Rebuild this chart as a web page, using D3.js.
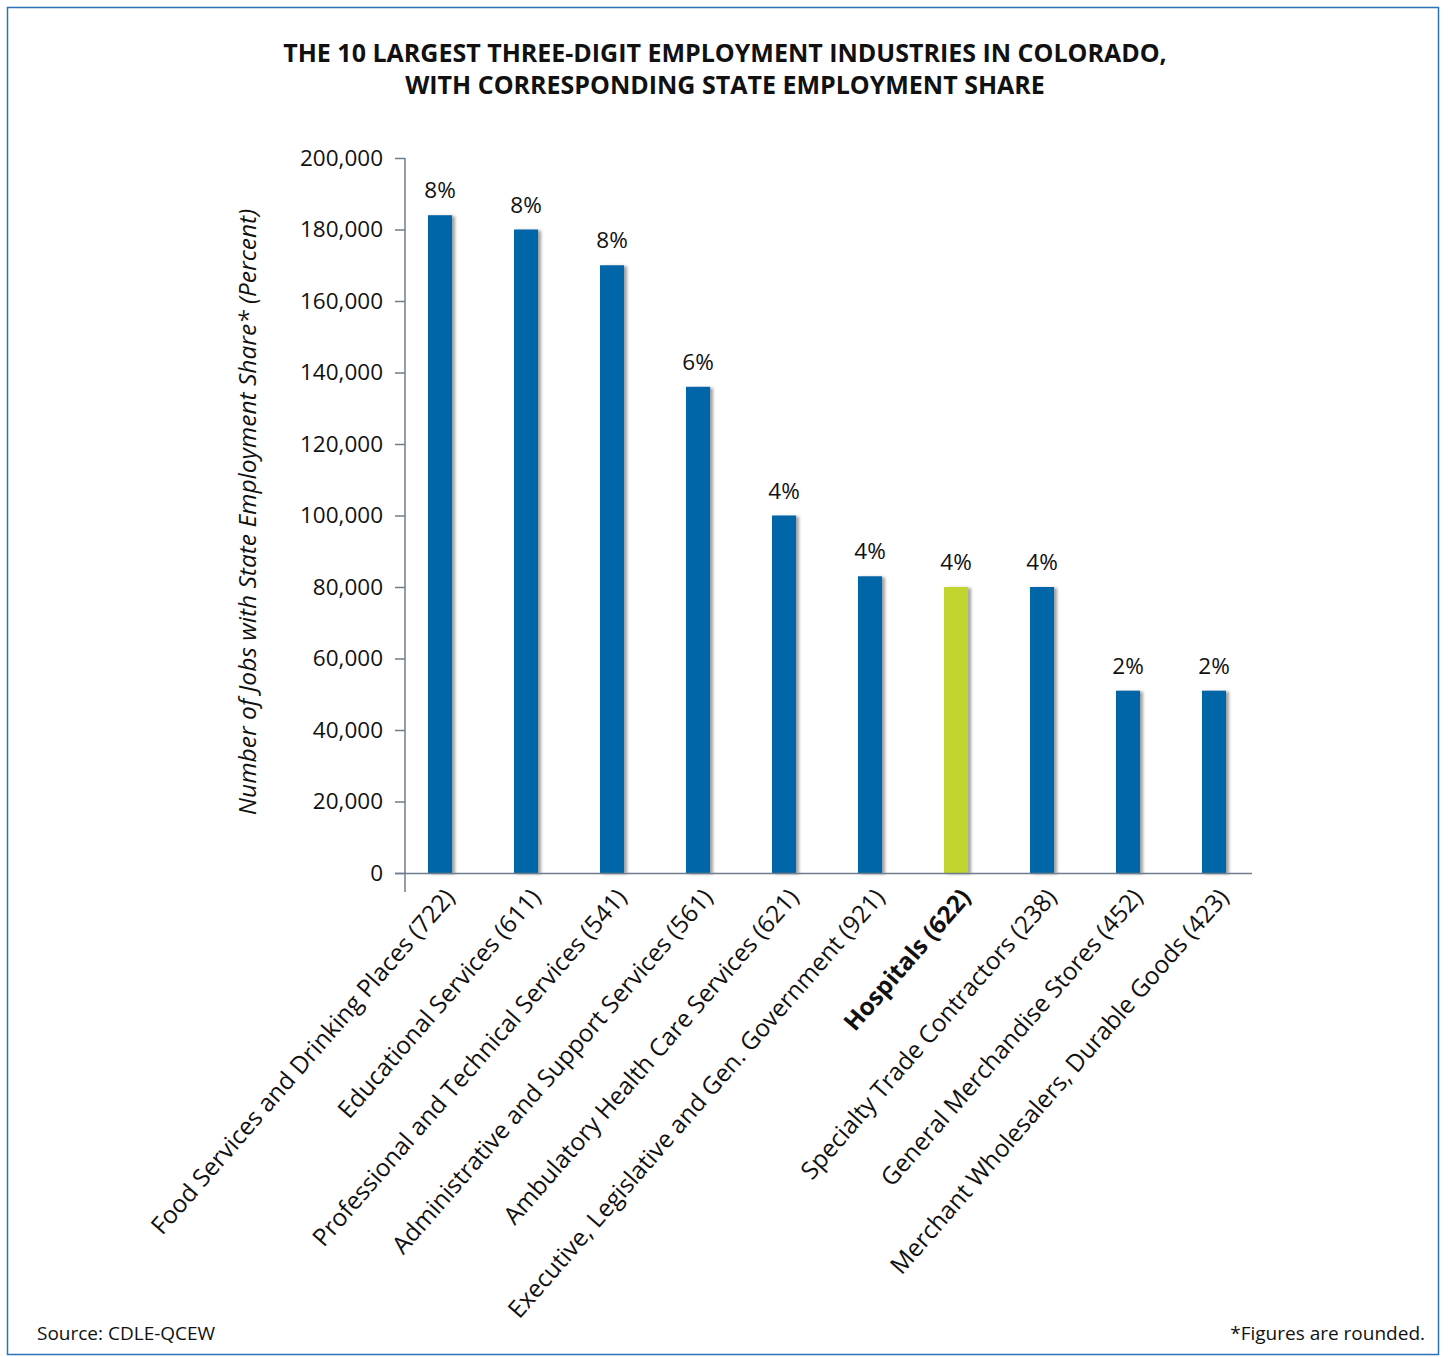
<!DOCTYPE html>
<html>
<head>
<meta charset="utf-8">
<script src="https://cdn.jsdelivr.net/npm/d3@7"></script>
<style>
  html, body { margin: 0; padding: 0; background: #fff; }
  svg { display: block; }
  text { font-family: "Open Sans", Lato, sans-serif; fill: #111; }
</style>
</head>
<body>
<svg id="chart" width="1448" height="1357"></svg>
<script>
const categories = [
  "Food Services and Drinking Places (722)",
  "Educational Services (611)",
  "Professional and Technical Services (541)",
  "Administrative and Support Services (561)",
  "Ambulatory Health Care Services (621)",
  "Executive, Legislative and Gen. Government (921)",
  "Hospitals (622)",
  "Specialty Trade Contractors (238)",
  "General Merchandise Stores (452)",
  "Merchant Wholesalers, Durable Goods (423)"
];
const jobs = [184000, 180000, 170000, 136000, 100000, 83000, 80000, 80000, 51000, 51000];
const shares = ["8%", "8%", "8%", "6%", "4%", "4%", "4%", "4%", "2%", "2%"];
const highlighted = ["Hospitals (622)"];
const yTicks = [0, 20000, 40000, 60000, 80000, 100000, 120000, 140000, 160000, 180000, 200000];
const titleLines = [
  "THE 10 LARGEST THREE-DIGIT EMPLOYMENT INDUSTRIES IN COLORADO,",
  "WITH CORRESPONDING STATE EMPLOYMENT SHARE"
];
const yAxisTitle = "Number of Jobs with State Employment Share* (Percent)";
const sourceNote = "Source: CDLE-QCEW";
const roundNote = "*Figures are rounded.";

const data = categories.map((c, i) => ({ cat: c, jobs: jobs[i], share: shares[i] }));

const svg = d3.select("#chart");
const axisColor = "#6e7d8c";

// frame
svg.append("rect")
  .attr("x", 7.5).attr("y", 7.5)
  .attr("width", 1431).attr("height", 1347)
  .attr("fill", "none").attr("stroke", "#2b73b5").attr("stroke-width", 1.5);

// shadow filter
const defs = svg.append("defs");
const f = defs.append("filter").attr("id", "shadow")
  .attr("x", "-30%").attr("y", "-5%").attr("width", "160%").attr("height", "110%");
f.append("feDropShadow").attr("dx", 3).attr("dy", 1).attr("stdDeviation", 1.5)
  .attr("flood-color", "#555").attr("flood-opacity", 0.55);

// title
svg.append("text")
  .attr("x", 725).attr("text-anchor", "middle")
  .style("font-weight", 700).style("font-size", "25px")
  .selectAll("tspan").data(titleLines).join("tspan")
  .attr("x", 725).attr("y", (d, i) => 62 + i * 32)
  .text(d => d);

// scales
const x = d3.scaleBand().domain(categories).range([397, 1257])
  .paddingInner(0.72).paddingOuter(0.36);
const y = d3.scaleLinear().domain([0, 200000]).range([873, 158]);

// y axis
const yAxis = d3.axisLeft(y).tickValues(yTicks).tickSize(10).tickPadding(12)
  .tickFormat(d3.format(","));
const gy = svg.append("g").attr("transform", "translate(405,0)").call(yAxis);
gy.select(".domain").remove();
gy.selectAll(".tick line").attr("stroke", axisColor).attr("stroke-width", 1.5);
gy.selectAll(".tick text").style("font-size", "22.5px").attr("fill", "#111")
  .style("font-family", "'Open Sans', sans-serif");
svg.append("line").attr("x1", 405).attr("x2", 405).attr("y1", 158).attr("y2", 892)
  .attr("stroke", axisColor).attr("stroke-width", 1.5);

// bars
svg.append("g").selectAll("rect").data(data).join("rect")
  .attr("x", d => x(d.cat))
  .attr("y", d => y(d.jobs))
  .attr("width", x.bandwidth())
  .attr("height", d => y(0) - y(d.jobs))
  .attr("fill", d => highlighted.includes(d.cat) ? "#c2d52f" : "#0066a8")
  .attr("filter", "url(#shadow)");

// x axis line
svg.append("line").attr("x1", 395).attr("x2", 1252).attr("y1", 873.5).attr("y2", 873.5)
  .attr("stroke", axisColor).attr("stroke-width", 1.5);

// value labels
svg.append("g").selectAll("text").data(data).join("text")
  .attr("x", d => x(d.cat) + x.bandwidth() / 2)
  .attr("y", d => y(d.jobs) - 17)
  .attr("text-anchor", "middle")
  .style("font-size", "22.5px")
  .text(d => d.share);

// category labels
svg.append("g").selectAll("text").data(data).join("text")
  .attr("transform", d => `translate(${x(d.cat) + x.bandwidth() / 2 + 16},${898}) rotate(-49)`)
  .attr("text-anchor", "end")
  .style("font-size", "24.4px")
  .style("font-weight", d => highlighted.includes(d.cat) ? 700 : 400)
  .text(d => d.cat);

// y axis title
svg.append("text")
  .attr("transform", "translate(256,512) rotate(-90)")
  .attr("text-anchor", "middle")
  .style("font-size", "24.5px").style("font-style", "italic")
  .text(yAxisTitle);

// notes
svg.append("text").attr("x", 37).attr("y", 1340)
  .style("font-size", "19px").text(sourceNote);
svg.append("text").attr("x", 1425).attr("y", 1340).attr("text-anchor", "end")
  .style("font-size", "19px").text(roundNote);
</script>
</body>
</html>
